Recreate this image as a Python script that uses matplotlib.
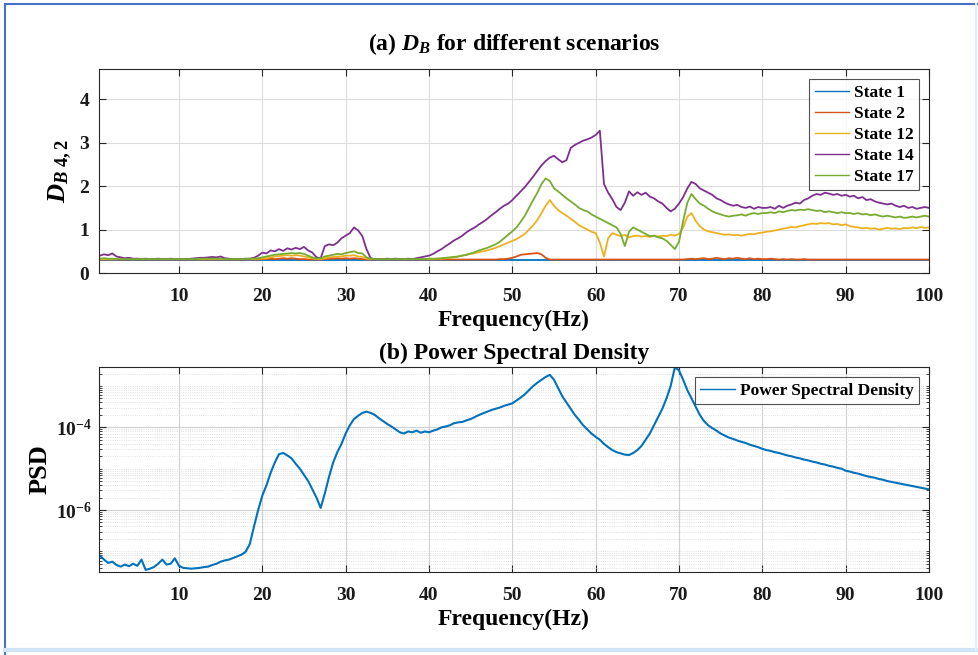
import numpy as np
import matplotlib
matplotlib.use("Agg")
import matplotlib.pyplot as plt
from matplotlib.lines import Line2D
from matplotlib.ticker import FixedLocator, NullFormatter, FuncFormatter

plt.rcParams['font.family'] = ['Liberation Serif']
plt.rcParams['font.weight'] = 'bold'
plt.rcParams['mathtext.fontset'] = 'custom'
plt.rcParams['mathtext.rm'] = 'Liberation Serif:bold'
plt.rcParams['mathtext.it'] = 'Liberation Serif:italic:bold'
plt.rcParams['mathtext.bf'] = 'Liberation Serif:bold'

# ---------------- data (0.5 Hz grid, 0.5 ... 100 Hz) ----------------
freq = np.arange(1, 201) * 0.5

state14 = [
    0.40, 0.43, 0.41, 0.45, 0.38, 0.36, 0.34, 0.35, 0.33, 0.33, 0.32, 0.33, 0.32, 0.32, 0.33, 0.32, 0.32, 0.33, 0.32, 0.32,
    0.32, 0.32, 0.33, 0.34, 0.35, 0.35, 0.36, 0.37, 0.36, 0.38, 0.34, 0.33, 0.32, 0.32, 0.32, 0.33, 0.33, 0.35, 0.40, 0.47,
    0.45, 0.52, 0.50, 0.55, 0.51, 0.57, 0.54, 0.58, 0.55, 0.60, 0.52, 0.47, 0.36, 0.34, 0.62, 0.66, 0.64, 0.70, 0.80, 0.86,
    0.92, 1.05, 0.98, 0.85, 0.55, 0.34, 0.32, 0.32, 0.32, 0.33, 0.32, 0.33, 0.32, 0.32, 0.33, 0.32, 0.34, 0.36, 0.38, 0.40,
    0.44, 0.50, 0.55, 0.62, 0.68, 0.75, 0.80, 0.86, 0.94, 1.00, 1.05, 1.12, 1.18, 1.25, 1.33, 1.40, 1.48, 1.55, 1.60, 1.68,
    1.78, 1.88, 1.98, 2.10, 2.22, 2.35, 2.48, 2.58, 2.66, 2.70, 2.62, 2.55, 2.60, 2.88, 2.95, 3.00, 3.05, 3.08, 3.12, 3.18,
    3.28, 2.05, 1.85, 1.70, 1.52, 1.45, 1.62, 1.88, 1.78, 1.86, 1.80, 1.85, 1.76, 1.72, 1.65, 1.60, 1.50, 1.42, 1.48, 1.60,
    1.75, 1.95, 2.10, 2.05, 1.95, 1.90, 1.85, 1.80, 1.72, 1.68, 1.62, 1.58, 1.55, 1.57, 1.52, 1.50, 1.53, 1.48, 1.52, 1.50,
    1.50, 1.52, 1.48, 1.55, 1.50, 1.55, 1.58, 1.62, 1.60, 1.68, 1.72, 1.78, 1.82, 1.80, 1.85, 1.83, 1.80, 1.82, 1.78, 1.80,
    1.76, 1.78, 1.72, 1.75, 1.68, 1.70, 1.65, 1.62, 1.60, 1.58, 1.60, 1.55, 1.52, 1.55, 1.50, 1.52, 1.48, 1.50, 1.52, 1.50,
]

state17 = [
    0.33, 0.34, 0.33, 0.33, 0.32, 0.32, 0.32, 0.32, 0.32, 0.32, 0.32, 0.32, 0.32, 0.32, 0.32, 0.32, 0.32, 0.32, 0.32, 0.32,
    0.32, 0.32, 0.32, 0.32, 0.33, 0.33, 0.33, 0.33, 0.33, 0.33, 0.32, 0.32, 0.32, 0.32, 0.32, 0.32, 0.33, 0.33, 0.34, 0.36,
    0.38, 0.40, 0.42, 0.43, 0.44, 0.45, 0.46, 0.45, 0.46, 0.44, 0.40, 0.36, 0.33, 0.34, 0.38, 0.40, 0.42, 0.44, 0.43, 0.46,
    0.48, 0.50, 0.46, 0.45, 0.36, 0.33, 0.32, 0.32, 0.32, 0.32, 0.32, 0.32, 0.32, 0.32, 0.32, 0.32, 0.32, 0.32, 0.32, 0.33,
    0.33, 0.33, 0.34, 0.35, 0.36, 0.37, 0.38, 0.40, 0.42, 0.45, 0.48, 0.52, 0.55, 0.58, 0.62, 0.66, 0.72, 0.80, 0.88, 0.96,
    1.05, 1.18, 1.32, 1.50, 1.68, 1.85, 2.05, 2.18, 2.12, 1.95, 1.88, 1.80, 1.72, 1.65, 1.58, 1.50, 1.45, 1.42, 1.35, 1.30,
    1.25, 1.20, 1.15, 1.10, 1.05, 0.90, 0.62, 0.95, 1.05, 1.00, 0.95, 0.90, 0.85, 0.86, 0.82, 0.80, 0.74, 0.65, 0.55, 0.72,
    1.20, 1.62, 1.82, 1.70, 1.60, 1.55, 1.48, 1.42, 1.38, 1.35, 1.32, 1.30, 1.32, 1.33, 1.35, 1.32, 1.36, 1.38, 1.36, 1.38,
    1.38, 1.40, 1.38, 1.42, 1.40, 1.43, 1.45, 1.44, 1.46, 1.45, 1.47, 1.45, 1.43, 1.44, 1.40, 1.42, 1.40, 1.38, 1.40, 1.38,
    1.38, 1.36, 1.38, 1.35, 1.36, 1.33, 1.35, 1.32, 1.30, 1.32, 1.30, 1.28, 1.30, 1.27, 1.28, 1.30, 1.28, 1.30, 1.32, 1.30,
]

state12 = [
    0.32, 0.32, 0.32, 0.32, 0.32, 0.32, 0.32, 0.32, 0.32, 0.32, 0.32, 0.32, 0.32, 0.32, 0.32, 0.32, 0.32, 0.32, 0.32, 0.32,
    0.32, 0.32, 0.32, 0.32, 0.32, 0.32, 0.32, 0.32, 0.32, 0.32, 0.32, 0.32, 0.32, 0.32, 0.32, 0.32, 0.32, 0.32, 0.33, 0.33,
    0.34, 0.36, 0.38, 0.39, 0.40, 0.41, 0.40, 0.41, 0.40, 0.38, 0.36, 0.34, 0.32, 0.32, 0.34, 0.36, 0.37, 0.38, 0.38, 0.40,
    0.40, 0.41, 0.38, 0.37, 0.33, 0.32, 0.32, 0.32, 0.32, 0.32, 0.32, 0.32, 0.32, 0.32, 0.32, 0.32, 0.32, 0.32, 0.32, 0.32,
    0.32, 0.33, 0.33, 0.34, 0.35, 0.36, 0.38, 0.40, 0.42, 0.44, 0.46, 0.48, 0.50, 0.52, 0.55, 0.58, 0.62, 0.66, 0.70, 0.74,
    0.78, 0.84, 0.90, 1.00, 1.10, 1.22, 1.38, 1.55, 1.68, 1.55, 1.45, 1.38, 1.32, 1.25, 1.18, 1.10, 1.05, 1.00, 0.95, 0.92,
    0.70, 0.38, 0.80, 0.92, 0.88, 0.85, 0.88, 0.82, 0.85, 0.86, 0.84, 0.85, 0.83, 0.86, 0.84, 0.86, 0.85, 0.88, 0.86, 0.90,
    1.05, 1.30, 1.38, 1.20, 1.08, 1.00, 0.96, 0.94, 0.92, 0.90, 0.88, 0.89, 0.87, 0.88, 0.86, 0.88, 0.90, 0.89, 0.92, 0.93,
    0.95, 0.96, 0.98, 1.00, 1.02, 1.04, 1.06, 1.05, 1.08, 1.10, 1.12, 1.14, 1.13, 1.15, 1.14, 1.15, 1.12, 1.13, 1.10, 1.12,
    1.08, 1.06, 1.05, 1.03, 1.04, 1.02, 1.03, 1.00, 1.02, 1.04, 1.02, 1.03, 1.01, 1.04, 1.03, 1.05, 1.03, 1.06, 1.04, 1.05,
]

state2 = [
    0.31, 0.31, 0.31, 0.31, 0.31, 0.31, 0.31, 0.31, 0.31, 0.31, 0.31, 0.31, 0.31, 0.31, 0.31, 0.31, 0.31, 0.31, 0.31, 0.31,
    0.31, 0.31, 0.31, 0.31, 0.31, 0.31, 0.31, 0.31, 0.31, 0.31, 0.31, 0.31, 0.31, 0.31, 0.31, 0.31, 0.31, 0.31, 0.31, 0.32,
    0.32, 0.33, 0.32, 0.33, 0.34, 0.33, 0.34, 0.33, 0.32, 0.32, 0.31, 0.31, 0.31, 0.31, 0.32, 0.33, 0.33, 0.34, 0.33, 0.34,
    0.33, 0.34, 0.33, 0.32, 0.31, 0.31, 0.31, 0.31, 0.31, 0.31, 0.31, 0.31, 0.31, 0.31, 0.31, 0.31, 0.31, 0.31, 0.31, 0.31,
    0.31, 0.31, 0.31, 0.31, 0.31, 0.31, 0.31, 0.31, 0.31, 0.31, 0.31, 0.31, 0.31, 0.31, 0.31, 0.31, 0.32, 0.32, 0.33, 0.35,
    0.38, 0.42, 0.43, 0.44, 0.45, 0.46, 0.43, 0.35, 0.31, 0.31, 0.31, 0.31, 0.31, 0.31, 0.31, 0.31, 0.31, 0.31, 0.31, 0.31,
    0.31, 0.31, 0.31, 0.31, 0.31, 0.31, 0.31, 0.31, 0.31, 0.31, 0.31, 0.31, 0.31, 0.31, 0.31, 0.31, 0.31, 0.31, 0.31, 0.31,
    0.31, 0.32, 0.33, 0.32, 0.33, 0.34, 0.32, 0.33, 0.35, 0.33, 0.32, 0.34, 0.33, 0.35, 0.33, 0.32, 0.34, 0.32, 0.33, 0.32,
    0.32, 0.33, 0.32, 0.31, 0.32, 0.31, 0.32, 0.31, 0.31, 0.32, 0.31, 0.31, 0.31, 0.31, 0.31, 0.31, 0.31, 0.31, 0.31, 0.31,
    0.31, 0.31, 0.31, 0.31, 0.31, 0.31, 0.31, 0.31, 0.31, 0.31, 0.31, 0.31, 0.31, 0.31, 0.31, 0.31, 0.31, 0.31, 0.31, 0.31,
]

state1 = [0.30] * 200

psd_log10 = [
    -7.10, -7.20, -7.28, -7.25, -7.33, -7.37, -7.32, -7.36, -7.30, -7.35, -7.20, -7.45, -7.42, -7.38, -7.30, -7.20, -7.32, -7.30, -7.17, -7.35,
    -7.40, -7.41, -7.42, -7.41, -7.40, -7.38, -7.37, -7.33, -7.30, -7.25, -7.22, -7.20, -7.16, -7.12, -7.08, -7.01, -6.82, -6.40, -6.00, -5.65,
    -5.40, -5.10, -4.85, -4.65, -4.62, -4.68, -4.75, -4.88, -5.00, -5.15, -5.30, -5.50, -5.70, -5.95, -5.60, -5.20, -4.85, -4.60, -4.40, -4.15,
    -3.95, -3.80, -3.72, -3.65, -3.62, -3.65, -3.70, -3.78, -3.85, -3.92, -3.98, -4.05, -4.12, -4.15, -4.10, -4.12, -4.08, -4.13, -4.10, -4.12,
    -4.08, -4.05, -4.00, -3.98, -3.95, -3.90, -3.88, -3.87, -3.83, -3.80, -3.75, -3.70, -3.66, -3.62, -3.58, -3.55, -3.52, -3.48, -3.45, -3.42,
    -3.35, -3.28, -3.20, -3.10, -3.00, -2.92, -2.85, -2.78, -2.73, -2.85, -3.05, -3.25, -3.40, -3.55, -3.70, -3.82, -3.95, -4.05, -4.15, -4.23,
    -4.30, -4.40, -4.48, -4.55, -4.60, -4.63, -4.66, -4.67, -4.62, -4.55, -4.45, -4.30, -4.15, -3.95, -3.75, -3.55, -3.30, -3.00, -2.55, -2.62,
    -2.85, -3.10, -3.30, -3.50, -3.70, -3.85, -3.95, -4.02, -4.08, -4.15, -4.20, -4.25, -4.28, -4.32, -4.35, -4.38, -4.42, -4.45, -4.48, -4.52,
    -4.55, -4.57, -4.60, -4.62, -4.65, -4.68, -4.70, -4.73, -4.75, -4.78, -4.80, -4.83, -4.85, -4.88, -4.90, -4.93, -4.95, -4.98, -5.00, -5.05,
    -5.07, -5.10, -5.12, -5.15, -5.18, -5.20, -5.22, -5.25, -5.27, -5.30, -5.32, -5.34, -5.36, -5.38, -5.40, -5.42, -5.44, -5.46, -5.48, -5.50,
]

state_labels = ['State 1', 'State 2', 'State 12', 'State 14', 'State 17']
xticks = [10, 20, 30, 40, 50, 60, 70, 80, 90, 100]
yticks_top = [0, 1, 2, 3, 4]

colors = ['#0072BD', '#D95319', '#EDB120', '#7E2F8E', '#77AC30']

# ---------------- figure ----------------
W, H = 979, 655
fig = plt.figure(figsize=(W / 100, H / 100), dpi=100)

def fx(px):
    return px / W

def fy(py):
    return 1 - py / H

L, R = 99, 929
ax1 = fig.add_axes([fx(L), fy(273), fx(R - L), (273 - 69) / H])
ax2 = fig.add_axes([fx(L), fy(572), fx(R - L), (572 - 367) / H])

spine_col = '#262626'
for ax in (ax1, ax2):
    for s in ax.spines.values():
        s.set_color(spine_col)
        s.set_linewidth(0.8)
    ax.tick_params(which='both', direction='in', top=True, right=True,
                   colors=spine_col, labelcolor='#1a1a1a', labelsize=14)
    ax.tick_params(which='major', length=5)
    ax.tick_params(which='minor', length=2.5)
    ax.tick_params(axis='x', which='major', pad=11)
    ax.set_xlim(0.4, 100)
    ax.set_xticks(xticks)
    ax.set_xticklabels([str(t) for t in xticks], fontweight='bold')
ax1.tick_params(axis='y', which='major', pad=7)
ax2.tick_params(axis='y', which='major', pad=5)

# top panel
series = [state1, state2, state12, state14, state17]
for vals, lab, c in zip(series, state_labels, colors):
    ax1.plot(freq, vals, color=c, lw=1.3, label=lab)
ax1.set_ylim(0, 4.7)
ax1.set_yticks(yticks_top)
ax1.set_yticklabels([str(t) for t in yticks_top], fontweight='bold')
ax1.grid(True, which='major', color='#dcdcdc', lw=0.8)
ax1.set_axisbelow(True)
ax1.set_title(r'(a) $D_B$ for different scenarios', fontsize=17, fontweight='bold', pad=14)
ax1.set_xlabel('Frequency(Hz)', fontsize=17, fontweight='bold', labelpad=3)
ax1.set_ylabel(r'$D_{B\ 4,2}$', fontsize=19, labelpad=4)
leg1 = ax1.legend(loc='upper right', fontsize=12.5, frameon=True, fancybox=False,
                  edgecolor='#262626', handlelength=2.0, handletextpad=0.25,
                  borderpad=0.3, labelspacing=0.28, borderaxespad=0.6)
leg1.get_frame().set_linewidth(0.8)
for ln in leg1.get_lines():
    ln.set_linewidth(1.0)
for t in leg1.get_texts():
    t.set_fontweight('bold')

# bottom panel
psd = 10.0 ** np.array(psd_log10)
ax2.semilogy(freq, psd, color='#0072BD', lw=1.5, label='Power Spectral Density')
ax2.set_ylim(10 ** -7.5, 10 ** -2.54)
ax2.yaxis.set_major_locator(FixedLocator([1e-6, 1e-4]))
minor = []
for k in range(-8, -2):
    for m in range(1, 10):
        v = m * 10.0 ** k
        if v not in (1e-6, 1e-4):
            minor.append(v)
ax2.yaxis.set_minor_locator(FixedLocator(minor))
ax2.yaxis.set_minor_formatter(NullFormatter())
ax2.yaxis.set_major_formatter(FuncFormatter(lambda v, p: r'$\mathbf{10^{%d}}$' % round(np.log10(v))))
ax2.grid(True, which='major', color='#d0d0d0', lw=0.8)
ax2.grid(True, which='minor', axis='y', color='#d8d8d8', lw=0.6, ls=':')
ax2.set_axisbelow(True)
ax2.set_title('(b) Power Spectral Density', fontsize=17, fontweight='bold', pad=6)
ax2.set_xlabel('Frequency(Hz)', fontsize=17, fontweight='bold', labelpad=3)
ax2.set_ylabel('PSD', fontsize=19, fontweight='bold', labelpad=3)
for t in ax2.get_yticklabels():
    t.set_fontsize(14)
leg2 = ax2.legend(loc='upper right', fontsize=12.5, frameon=True, fancybox=False,
                  edgecolor='#262626', handlelength=2.0, handletextpad=0.25,
                  borderpad=0.3, borderaxespad=0.6)
leg2.get_frame().set_linewidth(0.8)
for ln in leg2.get_lines():
    ln.set_linewidth(1.0)
for t in leg2.get_texts():
    t.set_fontweight('bold')

# outer frame (screenshot border)
fig.add_artist(Line2D([fx(5), fx(5)], [0, fy(4)], color='#4472C4', lw=1.5))
fig.add_artist(Line2D([fx(5), 1], [fy(4), fy(4)], color='#4472C4', lw=1.5))
fig.add_artist(Line2D([fx(5), 1], [fy(650), fy(650)], color='#cfe4f7', lw=3))
fig.add_artist(Line2D([fx(976), fx(976)], [fy(650), fy(4)], color='#e3eef8', lw=1.5))

fig.savefig('out.png', dpi=100)
